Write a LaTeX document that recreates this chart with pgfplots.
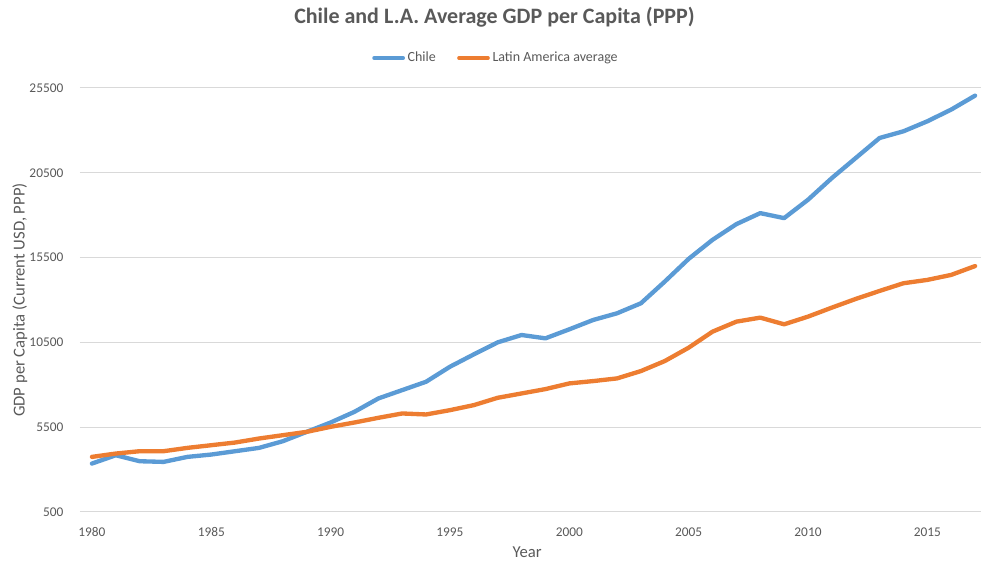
\documentclass[border=0pt]{standalone}
\usepackage{fontspec}
\setmainfont{Carlito}
\usepackage{pgfplots}
\pgfplotsset{compat=1.18}
\definecolor{chileblue}{HTML}{5B9BD5}
\definecolor{laorange}{HTML}{ED7D31}
\definecolor{txtgray}{HTML}{595959}
\definecolor{gridgray}{HTML}{D9D9D9}
\begin{document}
\begin{tikzpicture}
\begin{axis}[
  name=ax,
  scale only axis, width=680.25pt, height=318pt,
  xmin=1979.5, xmax=2017.5, ymin=500, ymax=25500,
  xtick={1980,1985,...,2015}, ytick={500,5500,...,25500},
  scaled ticks=false,
  /pgf/number format/assume math mode=true,
  /pgf/number format/1000 sep={},
  axis line style={draw=none}, tick style={draw=none},
  ymajorgrids, major grid style={gridgray, line width=0.75pt},
  ticklabel style={font=\fontsize{10}{12}\selectfont, text=txtgray},
  xticklabel style={anchor=center, yshift=-15pt},
  yticklabel style={anchor=east, xshift=-9pt},
  xlabel={Year}, ylabel={GDP per Capita (Current USD, PPP)},
  label style={font=\fontsize{12.5}{14}\selectfont, text=txtgray},
  xlabel style={at={(axis description cs:0.493,0)}, anchor=center, yshift=-30pt},
  ylabel style={at={(axis description cs:0,0.5)}, anchor=center, yshift=45pt},
  title={Chile and L.A. Average GDP per Capita (PPP)},
  title style={at={(axis description cs:0.457,1)}, anchor=center, yshift=47pt, font=\fontsize{16.5}{18}\selectfont\bfseries, text=txtgray},
  legend style={at={(axis description cs:0.459,1)}, anchor=center, yshift=22.5pt, draw=none, fill=none,
    legend columns=2, font=\fontsize{10.5}{12}\selectfont, text=txtgray,
    /tikz/every even column/.append style={column sep=14pt}},
  legend image code/.code={\draw[#1, line width=2.5pt] (0pt,0pt) -- (22pt,0pt);},
  every axis plot/.append style={line width=3.25pt, line join=round, line cap=round},
]
\addplot[chileblue] coordinates {
(1980,3355) (1981,3847) (1982,3493) (1983,3454) (1984,3749) (1985,3887)
(1986,4084) (1987,4280) (1988,4674) (1989,5226) (1990,5777) (1991,6407)
(1992,7195) (1993,7687) (1994,8180) (1995,9065) (1996,9794) (1997,10503)
(1998,10936) (1999,10739) (2000,11271) (2001,11822) (2002,12216) (2003,12806)
(2004,14086) (2005,15425) (2006,16547) (2007,17473) (2008,18122) (2009,17827)
(2010,18910) (2011,20190) (2012,21371) (2013,22553) (2014,22947) (2015,23537)
(2016,24227) (2017,25050)
};
\addlegendentry{Chile}
\addplot[laorange] coordinates {
(1980,3749) (1981,3946) (1982,4084) (1983,4084) (1984,4280) (1985,4438)
(1986,4596) (1987,4832) (1988,5029) (1989,5226) (1990,5521) (1991,5777)
(1992,6053) (1993,6309) (1994,6250) (1995,6505) (1996,6801) (1997,7234)
(1998,7490) (1999,7746) (2000,8081) (2001,8219) (2002,8376) (2003,8809)
(2004,9400) (2005,10187) (2006,11133) (2007,11723) (2008,11960) (2009,11566)
(2010,12019) (2011,12550) (2012,13062) (2013,13535) (2014,13988) (2015,14185)
(2016,14480) (2017,15000)
};
\addlegendentry{Latin America average}
\end{axis}
\pgfresetboundingbox
\path[use as bounding box] ([xshift=-60pt,yshift=-37.5pt]ax.south west) rectangle ([xshift=-4.5pt,yshift=66pt]ax.north east);
\end{tikzpicture}
\end{document}
